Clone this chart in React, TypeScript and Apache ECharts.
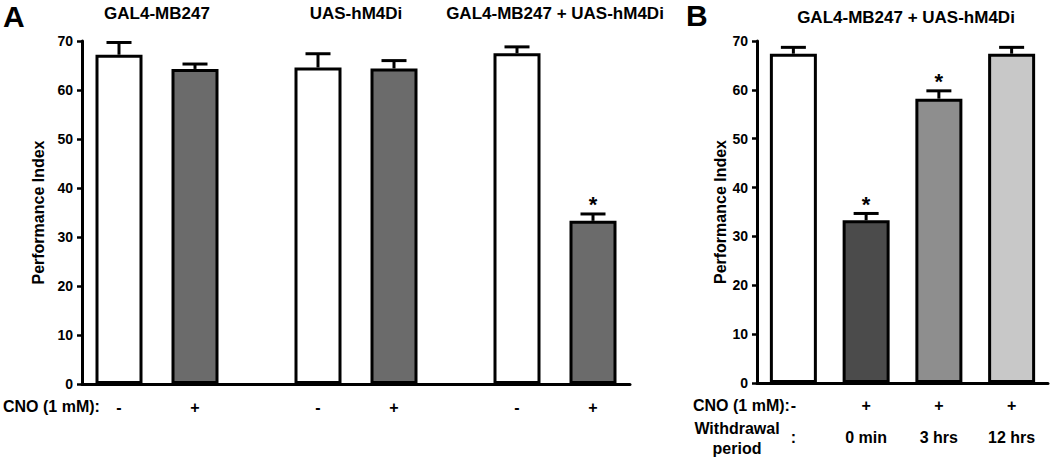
import React, { useEffect, useRef } from 'react';
import * as echarts from 'echarts';

// ---------- data ----------
const groupsA = ['GAL4-MB247', 'UAS-hM4Di', 'GAL4-MB247 + UAS-hM4Di'];
const minusLabel = '-';
const plusLabel = '+';
const aMinusValues = [67.2, 64.6, 67.5];
const aMinusErr = [2.5, 2.8, 1.3];
const aMinusSig = [0, 0, 0];
const aPlusValues = [64.3, 64.4, 33.3];
const aPlusErr = [1.0, 1.6, 1.4];
const aPlusSig = [0, 0, 1];

const titleB = 'GAL4-MB247 + UAS-hM4Di';
const bCno = ['-', '+', '+', '+'];
const bPeriod = [':', '0 min', '3 hrs', '12 hrs'];
const bValues = [67.4, 33.3, 58.2, 67.4];
const bErr = [1.3, 1.4, 1.6, 1.3];
const bSig = [0, 1, 1, 0];

const yMin = 0;
const yMax = 70;
const yInterval = 10;
const yName = 'Performance Index';
const cnoText = 'CNO (1 mM):';
const withdrawalText = 'Withdrawal\nperiod';

// ---------- style ----------
const FONT = "'Liberation Sans', Arial, Helvetica, sans-serif";
const BAR_W = 47;
const BAR_GAP = 29; // px between bars of a pair
const PAIR_SHIFT = (BAR_W + BAR_GAP) / 2;
const BORDER = 3;
const CAP_HALF = 12.5;
const aMinusColor = '#ffffff';
const aPlusColor = '#6b6b6b';
const bColors = ['#ffffff', '#4b4b4b', '#8e8e8e', '#c8c8c8'];

const errorRenderer = (shift: number) => (params: any, api: any) => {
  const idx = api.value(0);
  const mean = api.value(1);
  const err = api.value(2);
  const sig = api.value(3);
  const base = api.coord([idx, mean]);
  const top = api.coord([idx, mean + err]);
  const x = base[0] + shift;
  const lineStyle = { stroke: '#000', lineWidth: 3 };
  const children: any[] = [
    { type: 'line', shape: { x1: x, y1: base[1], x2: x, y2: top[1] }, style: lineStyle },
    { type: 'line', shape: { x1: x - CAP_HALF, y1: top[1], x2: x + CAP_HALF, y2: top[1] }, style: lineStyle },
  ];
  if (sig) {
    children.push({
      type: 'text',
      x,
      y: top[1] + 2,
      style: {
        text: '*',
        fill: '#000',
        font: `bold 22px ${FONT}`,
        textAlign: 'center',
        textVerticalAlign: 'bottom',
      },
    });
  }
  return { type: 'group', children };
};

const yAxisCommon = (gridIndex: number, show: boolean) => ({
  type: 'value',
  gridIndex,
  min: yMin,
  max: yMax,
  interval: yInterval,
  show,
  name: show ? yName : '',
  nameLocation: 'middle',
  nameGap: 28,
  nameTextStyle: { fontFamily: FONT, fontWeight: 'bold', fontSize: 16, color: '#000' },
  axisLine: { show: true, lineStyle: { color: '#000', width: 3 } },
  axisTick: { show: true, inside: false, length: 5, lineStyle: { color: '#000', width: 2.5 } },
  axisLabel: { show: true, margin: 9, fontFamily: FONT, fontWeight: 'bold', fontSize: 14, color: '#000' },
  splitLine: { show: false },
});

export default function App() {
  const ref = useRef<HTMLDivElement>(null);

  useEffect(() => {
    if (!ref.current) return;
    const chart = echarts.init(ref.current, undefined, { renderer: 'svg' });

    const barLabel = (text: string) => ({
      show: true,
      position: 'bottom',
      distance: 15,
      formatter: text,
      fontFamily: FONT,
      fontWeight: 'bold',
      fontSize: 16,
      color: '#000',
    });

    const option: any = {
      animation: false,
      backgroundColor: '#ffffff',
      textStyle: { fontFamily: FONT },
      title: {
        text: titleB,
        left: 901,
        top: 4,
        textAlign: 'center',
        textStyle: { fontFamily: FONT, fontWeight: 'bold', fontSize: 17, color: '#000' },
      },
      grid: [
        // panel A axes
        { left: 82, right: 420, top: 41, bottom: 75 },
        // panel A bars (3 groups)
        { left: 57.5, right: 395.5, top: 41, bottom: 75 },
        // panel B
        { left: 757, right: 2, top: 41, bottom: 76 },
      ],
      xAxis: [
        {
          type: 'value',
          gridIndex: 0,
          min: 0,
          max: 1,
          axisLine: { show: true, onZero: false, lineStyle: { color: '#000', width: 3 } },
          axisTick: { show: false },
          axisLabel: { show: false },
          splitLine: { show: false },
        },
        {
          type: 'category',
          gridIndex: 1,
          position: 'top',
          data: groupsA,
          axisLine: { show: false },
          axisTick: { show: false },
          axisLabel: { margin: 19, fontFamily: FONT, fontWeight: 'bold', fontSize: 17, color: '#000', interval: 0 },
          splitLine: { show: false },
        },
        {
          type: 'category',
          gridIndex: 2,
          data: bCno.map((c, i) => `${c}\n${bPeriod[i]}`),
          axisLine: { show: true, onZero: false, lineStyle: { color: '#000', width: 3 } },
          axisTick: { show: false },
          axisLabel: {
            margin: 6,
            interval: 0,
            lineHeight: 32,
            fontFamily: FONT,
            fontWeight: 'bold',
            fontSize: 16,
            color: '#000',
          },
          splitLine: { show: false },
        },
      ],
      yAxis: [yAxisCommon(0, true), yAxisCommon(1, false), yAxisCommon(2, true)],
      series: [
        {
          type: 'bar',
          name: 'CNO -',
          xAxisIndex: 1,
          yAxisIndex: 1,
          data: aMinusValues,
          barWidth: BAR_W,
          barGap: `${(BAR_GAP / BAR_W) * 100}%`,
          itemStyle: { color: aMinusColor, borderColor: '#000', borderWidth: BORDER },
          label: barLabel(minusLabel),
        },
        {
          type: 'bar',
          name: 'CNO +',
          xAxisIndex: 1,
          yAxisIndex: 1,
          data: aPlusValues,
          barWidth: BAR_W,
          barGap: `${(BAR_GAP / BAR_W) * 100}%`,
          itemStyle: { color: aPlusColor, borderColor: '#000', borderWidth: BORDER },
          label: barLabel(plusLabel),
        },
        {
          type: 'custom',
          xAxisIndex: 1,
          yAxisIndex: 1,
          renderItem: errorRenderer(-PAIR_SHIFT),
          data: aMinusValues.map((v, i) => [i, v, aMinusErr[i], aMinusSig[i]]),
          encode: { x: 0, y: 1 },
          z: 5,
        },
        {
          type: 'custom',
          xAxisIndex: 1,
          yAxisIndex: 1,
          renderItem: errorRenderer(PAIR_SHIFT),
          data: aPlusValues.map((v, i) => [i, v, aPlusErr[i], aPlusSig[i]]),
          encode: { x: 0, y: 1 },
          z: 5,
        },
        {
          type: 'bar',
          name: 'B',
          xAxisIndex: 2,
          yAxisIndex: 2,
          barWidth: BAR_W,
          data: bValues.map((v, i) => ({
            value: v,
            itemStyle: { color: bColors[i] },
          })),
          itemStyle: { borderColor: '#000', borderWidth: BORDER },
        },
        {
          type: 'custom',
          xAxisIndex: 2,
          yAxisIndex: 2,
          renderItem: errorRenderer(0),
          data: bValues.map((v, i) => [i, v, bErr[i], bSig[i]]),
          encode: { x: 0, y: 1 },
          z: 5,
        },
      ],
      graphic: [
        {
          type: 'text',
          left: 3,
          top: 1,
          style: { text: 'A', font: `bold 30px ${FONT}`, fill: '#000' },
        },
        {
          type: 'text',
          left: 686,
          top: 0,
          style: { text: 'B', font: `bold 30px ${FONT}`, fill: '#000' },
        },
        {
          type: 'text',
          left: 3,
          top: 398,
          style: { text: cnoText, font: `bold 16px ${FONT}`, fill: '#000' },
        },
        {
          type: 'text',
          left: 693,
          top: 397,
          style: { text: cnoText, font: `bold 16px ${FONT}`, fill: '#000' },
        },
        {
          type: 'text',
          x: 737,
          y: 418,
          style: {
            text: withdrawalText,
            font: `bold 16px ${FONT}`,
            fill: '#000',
            textAlign: 'center',
            lineHeight: 20,
          },
        },
      ],
    };

    chart.setOption(option);
    return () => chart.dispose();
  }, []);

  return (
    <div
      ref={ref}
      style={{ position: 'absolute', left: 0, top: 0, width: 1050, height: 459 }}
    />
  );
}
